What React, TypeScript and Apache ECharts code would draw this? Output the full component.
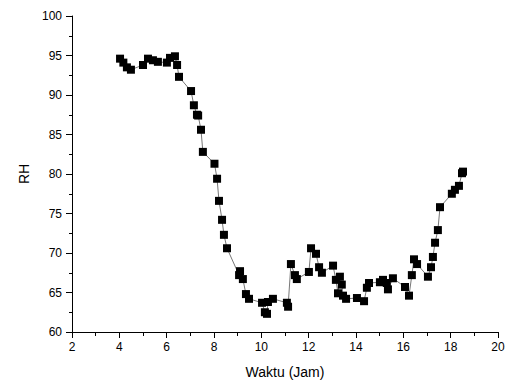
import React, { useEffect, useRef } from "react";
import * as echarts from "echarts";

const hours = [
  4.03, 4.17, 4.32, 4.49, 5.0, 5.21, 5.42, 5.63, 6.01, 6.14, 6.35, 6.44, 6.52,
  7.03, 7.15, 7.28, 7.33, 7.45, 7.53, 8.02, 8.13, 8.21, 8.34, 8.42, 8.55,
  9.06, 9.1, 9.22, 9.35, 9.48, 10.03, 10.15, 10.24, 10.28, 10.49,
  11.08, 11.13, 11.25, 11.42, 11.5, 12.01, 12.1, 12.31, 12.44, 12.56,
  13.03, 13.15, 13.24, 13.32, 13.4, 13.45, 13.58, 14.04, 14.34, 14.46, 14.55,
  15.01, 15.14, 15.3, 15.35, 15.56, 16.07, 16.24, 16.36, 16.45, 16.58,
  17.04, 17.17, 17.25, 17.34, 17.46, 17.55, 18.05, 18.18, 18.35, 18.48, 18.52,
];
const rh = [
  94.6, 94.1, 93.5, 93.2, 93.8, 94.6, 94.4, 94.2, 94.1, 94.7, 94.9, 93.8, 92.3,
  90.5, 88.7, 87.5, 87.4, 85.6, 82.8, 81.3, 79.4, 76.6, 74.2, 72.3, 70.6,
  67.2, 67.7, 66.7, 64.8, 64.2, 63.7, 62.5, 62.3, 63.8, 64.2,
  63.7, 63.2, 68.6, 67.2, 66.7, 67.6, 70.6, 69.9, 68.2, 67.5,
  68.4, 66.6, 64.9, 67.0, 66.0, 64.6, 64.2, 64.3, 63.9, 65.6, 66.2,
  66.3, 66.6, 66.2, 65.4, 66.8, 65.7, 64.6, 67.2, 69.2, 68.6,
  67.0, 68.2, 69.5, 71.3, 72.9, 75.8, 77.5, 78.0, 78.5, 80.1, 80.3,
];

const xTitle = "Waktu (Jam)";
const yTitle = "RH";

export default function App() {
  const ref = useRef<HTMLDivElement>(null);
  useEffect(() => {
    if (!ref.current) return;
    const chart = echarts.init(ref.current, null, { renderer: "svg" });
    const font = "Liberation Sans, Arial, sans-serif";
    chart.setOption({
      animation: false,
      backgroundColor: "#ffffff",
      grid: {
        left: 72,
        right: 11,
        top: 16,
        bottom: 49,
        containLabel: false,
        outerBoundsMode: "none",
      },
      xAxis: {
        type: "value",
        min: 2,
        max: 20,
        interval: 2,
        name: xTitle,
        nameLocation: "middle",
        nameGap: 33,
        nameTextStyle: { color: "#000", fontSize: 14, fontFamily: font },
        axisLine: { lineStyle: { color: "#000", width: 1 } },
        axisTick: { show: true, inside: false, length: 6, lineStyle: { color: "#000" } },
        minorTick: { show: true, splitNumber: 2, length: 4, lineStyle: { color: "#000" } },
        axisLabel: { color: "#000", fontSize: 12, fontFamily: font, margin: 9 },
        splitLine: { show: false },
      },
      yAxis: {
        type: "value",
        min: 60,
        max: 100,
        interval: 5,
        name: yTitle,
        nameLocation: "middle",
        nameGap: 40,
        nameRotate: 90,
        nameTextStyle: { color: "#000", fontSize: 14, fontFamily: font },
        axisLine: { show: true, lineStyle: { color: "#000", width: 1 } },
        axisTick: { show: true, inside: false, length: 6, lineStyle: { color: "#000" } },
        minorTick: { show: true, splitNumber: 2, length: 3, lineStyle: { color: "#000" } },
        axisLabel: { color: "#000", fontSize: 12, fontFamily: font, margin: 10 },
        splitLine: { show: false },
      },
      series: [
        {
          type: "line",
          data: hours.map((h, i) => [h, rh[i]]),
          symbol: "rect",
          symbolSize: 8,
          itemStyle: { color: "#000" },
          lineStyle: { color: "#777", width: 1 },
        },
      ],
    });
    return () => chart.dispose();
  }, []);
  return (
    <div
      ref={ref}
      style={{ position: "fixed", left: 0, top: 0, width: 509, height: 381 }}
    />
  );
}
